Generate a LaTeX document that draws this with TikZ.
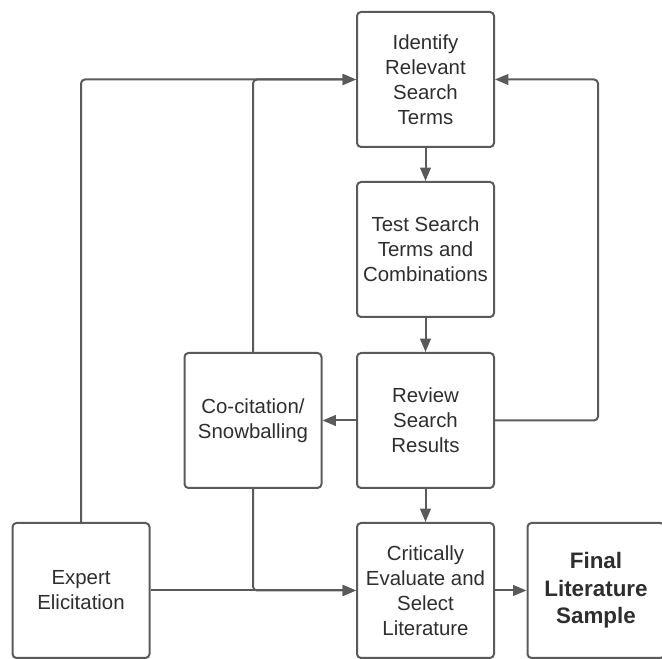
\documentclass[tikz,border=0pt]{standalone}
\usepackage{fontspec}
\setmainfont{Liberation Sans}
\usetikzlibrary{arrows.meta}
\definecolor{boxgray}{HTML}{5A5A5A}
\definecolor{textgray}{HTML}{2E2E2E}
\begin{document}
\begin{tikzpicture}[x=0.75pt, y=0.75pt,
    stepbox/.style={draw=boxgray, line width=1.5pt, rounded corners=3pt, align=center,
      minimum width=102.75pt, minimum height=101.25pt, inner sep=2pt, text=textgray,
      font=\fontsize{15.3}{18.75}\selectfont},
    finalbox/.style={stepbox, font=\fontsize{16.8}{20.6}\selectfont\bfseries},
    flow/.style={draw=boxgray, line width=1.5pt, rounded corners=3pt,
      -{Triangle[length=10pt, width=8pt]}}]
    \useasboundingbox (0,0) rectangle (662,659);

    % Nodes
    \node[stepbox] (identify) at (425.5,579.5) {Identify\\Relevant\\Search\\Terms};
    \node[stepbox] (test) at (425.5,409.5) {Test Search\\Terms and\\Combinations};
    \node[stepbox] (review) at (425.5,238.5) {Review\\Search\\Results};
    \node[stepbox] (cocite) at (253,238.5) {Co-citation/\\Snowballing};
    \node[stepbox] (evaluate) at (425.5,68.5) {Critically\\Evaluate and\\Select\\Literature};
    \node[stepbox] (expert) at (81,68.5) {Expert\\Elicitation};
    \node[finalbox] (final) at (596,68.5) {Final\\Literature\\Sample};
    \coordinate (loop) at (598,238.5);

    % Connection
    \draw[flow] (identify) -- (test);
    \draw[flow] (test) -- (review);
    \draw[flow] (review) -- (evaluate);
    \draw[flow] (review) -- (cocite);
    \draw[flow] (evaluate) -- (final);
    \draw[flow] (expert) -- (evaluate);
    \draw[flow] (cocite.south) |- (evaluate.west);
    \draw[flow] (expert.north) |- (identify.west);
    \draw[flow] (cocite.north) |- (identify.west);
    \draw[flow] (review.east) -- (loop) |- (identify.east);
  \end{tikzpicture}
\end{document}
